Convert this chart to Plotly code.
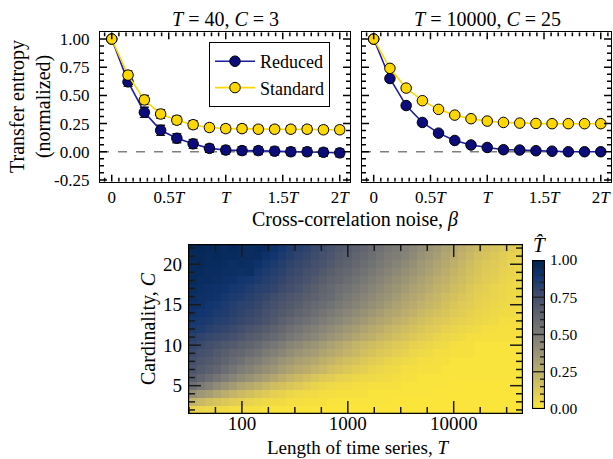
import numpy as np
import plotly.graph_objects as go

W, H = 613, 459
FONT = "Liberation Serif"

# ---- top row: transfer entropy vs. cross-correlation noise (beta in units of T)
BETA_OVER_T = [0, 0.143, 0.286, 0.429, 0.571, 0.714, 0.857, 1.0,
               1.143, 1.286, 1.429, 1.571, 1.714, 1.857, 2.0]

SHORT_REDUCED = [1.00, 0.62, 0.35, 0.19, 0.12, 0.07, 0.03, 0.015,
                 0.01, 0.01, 0.005, 0.0, 0.0, -0.005, -0.01]
SHORT_REDUCED_ERR = [0.01, 0.04, 0.045, 0.045, 0.04, 0.04, 0.035, 0.035,
                     0.035, 0.035, 0.035, 0.035, 0.035, 0.035, 0.035]
SHORT_STANDARD = [1.00, 0.68, 0.46, 0.335, 0.28, 0.24, 0.215, 0.205,
                  0.205, 0.20, 0.20, 0.20, 0.20, 0.195, 0.195]
SHORT_STANDARD_ERR = [0.01, 0.038, 0.04, 0.038, 0.035, 0.035, 0.03, 0.03,
                      0.03, 0.03, 0.03, 0.03, 0.03, 0.03, 0.03]

LONG_REDUCED = [1.00, 0.65, 0.41, 0.26, 0.165, 0.10, 0.06, 0.038,
                0.018, 0.015, 0.009, 0.005, 0.0, 0.0, 0.0]
LONG_REDUCED_ERR = [0.004] * 15
LONG_STANDARD = [1.00, 0.74, 0.565, 0.453, 0.376, 0.325, 0.293, 0.272,
                 0.26, 0.254, 0.251, 0.249, 0.249, 0.249, 0.249]
LONG_STANDARD_ERR = [0.004] * 15

PANEL_TITLES = ["<i>T</i> = 40, <i>C</i> = 3", "<i>T</i> = 10000, <i>C</i> = 25"]
BETA_TICKS = [0, 0.5, 1, 1.5, 2]
BETA_TICKTEXT = ["0", "0.5<i>T</i>", "<i>T</i>", "1.5<i>T</i>", "2<i>T</i>"]
TE_TICKS = [-0.25, 0, 0.25, 0.5, 0.75, 1.0]
TE_TICKTEXT = ["-0.25", "0.00", "0.25", "0.50", "0.75", "1.00"]

# ---- bottom: normalized transfer entropy over (T, C), in percent
T_LENGTHS = [34, 41, 48, 58, 69, 83, 99, 118, 141, 168, 201, 240, 286, 342,
             408, 488, 583, 696, 831, 993, 1186, 1416, 1691, 2019, 2411, 2881,
             3441, 4110, 4909, 5862, 7000, 8360, 9980, 11920, 14230, 17000,
             20300, 24250, 28960, 34590, 41300]
CARDINALITY = list(range(2, 23))
TE_PERCENT = [
    [8, 7, 6, 6, 5, 4, 4, 3, 3, 2, 2, 2, 2, 2, 2, 2] + [1] * 25,                      # C=2
    [22, 20, 17, 15, 13, 11, 10, 8, 7, 6, 5, 5, 4, 4, 3, 3, 3, 2, 2] + [2] * 6 + [1] * 16,
    [40, 36, 33, 29, 25, 22, 19, 17, 14, 12, 10, 9, 7, 6, 5, 5, 4, 4, 3, 3, 3,
     3, 2, 2, 2, 2, 2, 2, 2, 2] + [1] * 11,
    [56, 51, 47, 42, 38, 34, 30, 27, 24, 21, 18, 16, 14, 12, 10, 8, 7, 6, 5, 5,
     4, 4, 3, 3, 3, 3, 2, 2, 2, 2, 2, 2] + [1] * 9,
    [66, 62, 58, 54, 50, 46, 42, 39, 35, 32, 28, 25, 22, 19, 17, 14, 12, 11, 9,
     8, 7, 6, 6, 5, 5, 4, 3, 3] + [2] * 13,
    [71, 68, 65, 62, 58, 54, 50, 47, 43, 40, 37, 33, 30, 27, 25, 22, 20, 17, 15,
     13, 11, 10, 8, 7, 6, 5, 4, 4, 3, 3, 3, 2, 2, 2, 2, 2, 2, 2, 2, 2, 2],
    [74, 71, 69, 66, 63, 59, 56, 52, 49, 45, 42, 38, 35, 32, 30, 27, 24, 22, 19,
     17, 15, 13, 11, 10, 8, 7, 6, 5, 4, 4, 3, 3] + [2] * 9,
    [77, 74, 72, 69, 66, 63, 61, 58, 55, 51, 48, 45, 41, 38, 35, 33, 30, 27, 25,
     22, 20, 17, 15, 13, 12, 10, 9, 7, 6, 5, 4, 4, 3, 3, 3, 2, 2, 2, 2, 2, 2],
    [80, 78, 75, 73, 70, 68, 65, 63, 60, 56, 53, 50, 46, 43, 40, 37, 34, 31, 28,
     25, 22, 20, 18, 16, 14, 12, 11, 9, 8, 7, 6, 5, 4, 3, 3, 2, 2, 2, 2, 2, 2],
    [83, 81, 79, 78, 76, 74, 71, 68, 66, 63, 60, 57, 53, 50, 47, 44, 41, 38, 35,
     32, 29, 26, 24, 21, 19, 17, 15, 13, 11, 10, 8, 7, 6, 5, 4, 4, 3, 3, 3, 3, 3],
    [86, 85, 83, 81, 80, 78, 75, 72, 70, 67, 64, 61, 57, 54, 51, 48, 45, 42, 39,
     36, 33, 30, 27, 25, 22, 20, 18, 16, 14, 12, 11, 9, 8, 7, 6, 5, 4, 4, 3, 3, 3],
    [88, 87, 86, 84, 83, 81, 79, 77, 75, 72, 69, 65, 62, 59, 56, 53, 50, 47, 44,
     41, 38, 35, 32, 29, 27, 24, 22, 19, 17, 15, 13, 12, 10, 9, 8, 7, 6, 5, 4, 4, 4],
    [90, 89, 88, 86, 85, 83, 81, 79, 77, 74, 71, 69, 66, 63, 60, 57, 54, 51, 48,
     45, 42, 39, 36, 33, 30, 28, 25, 23, 20, 18, 16, 14, 12, 11, 9, 8, 7, 6, 5, 5, 4],
    [92, 91, 89, 88, 86, 84, 82, 81, 79, 76, 74, 71, 69, 66, 63, 60, 58, 55, 52,
     49, 46, 43, 40, 37, 34, 31, 28, 26, 23, 21, 19, 16, 14, 12, 11, 9, 8, 7, 6, 5, 5],
    [93, 92, 91, 90, 88, 86, 85, 83, 81, 79, 76, 74, 71, 69, 66, 64, 61, 59, 55,
     52, 49, 46, 43, 40, 37, 34, 31, 28, 26, 23, 21, 18, 16, 14, 12, 10, 9, 8, 7, 6, 5],
    [94, 93, 92, 91, 90, 88, 87, 85, 83, 82, 80, 77, 75, 72, 69, 66, 63, 60, 57,
     55, 52, 49, 46, 43, 40, 37, 34, 31, 29, 26, 23, 21, 18, 16, 13, 11, 10, 8, 7, 6, 6],
    [95, 94, 94, 93, 92, 91, 89, 88, 86, 84, 82, 80, 77, 75, 72, 69, 66, 63, 61,
     58, 55, 52, 49, 46, 43, 40, 37, 34, 31, 28, 25, 23, 20, 18, 15, 13, 11, 10, 8, 7, 6],
    [95, 95, 94, 94, 93, 93, 92, 93, 88, 86, 84, 82, 79, 77, 74, 72, 69, 66, 63,
     61, 58, 55, 52, 49, 46, 43, 40, 37, 34, 31, 28, 25, 22, 19, 17, 14, 12, 11, 9, 8, 7],
    [95, 96, 95, 95, 94, 93, 94, 93, 91, 88, 86, 84, 81, 79, 77, 74, 72, 69, 66,
     64, 61, 58, 55, 52, 49, 46, 43, 40, 36, 33, 30, 27, 24, 21, 18, 15, 13, 12, 10, 8, 7],
    [96, 96, 95, 96, 95, 95, 94, 94, 94, 91, 89, 86, 84, 81, 79, 76, 74, 71, 68,
     66, 63, 60, 57, 54, 51, 49, 46, 43, 39, 36, 33, 29, 26, 23, 20, 17, 15, 13, 11, 9, 8],
    [96, 97, 96, 96, 95, 96, 95, 94, 95, 94, 91, 88, 85, 83, 81, 78, 76, 73, 70,
     68, 65, 62, 59, 56, 53, 51, 48, 45, 41, 38, 35, 31, 28, 25, 22, 19, 17, 15, 13, 11, 9],
]
for row in TE_PERCENT:
    assert len(row) == len(T_LENGTHS), len(row)
assert len(TE_PERCENT) == len(CARDINALITY)

T_TICKS = [100, 1000, 10000]
T_TICKTEXT = ["100", "1000", "10000"]
C_TICKS = [5, 10, 15, 20]
SCALE_TICKS = [0.0, 0.25, 0.5, 0.75, 1.0]
SCALE_TICKTEXT = ["0.00", "0.25", "0.50", "0.75", "1.00"]

# ---- colours
NAVY_FILL = "#0b0b7a"
NAVY_LINE = "#1c1ca6"
GOLD = "#ffd700"
ERR_COLOR = "#222222"

# ---- frame geometry (pixels)
TOP_Y0, TOP_Y1 = 32.3, 181.7
LEFT_X0, LEFT_X1 = 100, 350
RIGHT_X0, RIGHT_X1 = 362, 611
HM_X0, HM_X1 = 188, 523
HM_Y0, HM_Y1 = 244, 414
CB_X0, CB_X1 = 532, 545
CB_Y0, CB_Y1 = 260, 409


def px_x(p):
    return p / W


def px_y(p):
    return 1 - p / H


fig = go.Figure()


def add_panel(idx, reduced, reduced_err, standard, standard_err, legend):
    xa = "x" if idx == 1 else f"x{idx}"
    ya = "y" if idx == 1 else f"y{idx}"
    for name, vals, errs, fill, line in (
        ("Reduced", reduced, reduced_err, NAVY_FILL, NAVY_LINE),
        ("Standard", standard, standard_err, GOLD, GOLD),
    ):
        fig.add_trace(go.Scatter(
            x=BETA_OVER_T, y=vals, name=name, mode="lines+markers",
            xaxis=xa, yaxis=ya, showlegend=legend,
            line=dict(color=line, width=1.6),
            marker=dict(size=10.5, color=fill, line=dict(color="black", width=1)),
            error_y=dict(type="data", array=errs, color=ERR_COLOR,
                         thickness=1.4, width=4.5),
        ))


add_panel(1, SHORT_REDUCED, SHORT_REDUCED_ERR, SHORT_STANDARD, SHORT_STANDARD_ERR, True)
add_panel(2, LONG_REDUCED, LONG_REDUCED_ERR, LONG_STANDARD, LONG_STANDARD_ERR, False)

# heatmap cell edges: geometric midpoints between neighbouring lengths
t = np.array(T_LENGTHS, dtype=float)
mid = np.sqrt(t[:-1] * t[1:])
t_edges = np.concatenate([[t[0] ** 2 / mid[0]], mid, [t[-1] ** 2 / mid[-1]]])
z = np.array(TE_PERCENT, dtype=float) / 100.0

fig.add_trace(go.Heatmap(
    x=t_edges, y=CARDINALITY, z=z, xaxis="x3", yaxis="y3",
    colorscale="Cividis", reversescale=True, zmin=0, zmax=1,
    showscale=False, hoverinfo="skip",
))

# colour scale strip drawn on its own small axes
levels = np.linspace(0, 1, 257)
fig.add_trace(go.Heatmap(
    x=[0, 1], y=levels, z=((levels[:-1] + levels[1:]) / 2)[:, None],
    xaxis="x4", yaxis="y4", colorscale="Cividis", reversescale=True,
    zmin=0, zmax=1, showscale=False, hoverinfo="skip",
))

beta_range = [-0.103, 2.09]
te_range = [-0.266, 1.06]
c_range = [1.5, 22.5]
x_log_lo, x_log_hi = np.log10(t_edges[0]), np.log10(t_edges[-1])


def add_lines(pairs, xa, ya, width=1.0, color="black"):
    xs, ys = [], []
    for (x0, y0), (x1, y1) in pairs:
        xs += [x0, x1, None]
        ys += [y0, y1, None]
    fig.add_trace(go.Scatter(x=xs, y=ys, xaxis=xa, yaxis=ya, mode="lines",
                             line=dict(color=color, width=width),
                             showlegend=False, hoverinfo="skip"))


TICK_W = 1.5

# inward ticks on all four sides of the two line panels
top_h = TOP_Y1 - TOP_Y0
beta_minor = [k / 16 for k in range(-1, 34) if k % 8 != 0]
te_minor = [k / 16 for k in range(-4, 17) if k % 4 != 0]
for xa, ya, wpx in (("x", "y", LEFT_X1 - LEFT_X0), ("x2", "y2", RIGHT_X1 - RIGHT_X0)):
    dy = (te_range[1] - te_range[0]) / top_h
    dx = (beta_range[1] - beta_range[0]) / wpx
    pairs = []
    for vals, ln in ((BETA_TICKS, 7), (beta_minor, 4)):
        for v in vals:
            pairs.append(((v, te_range[0]), (v, te_range[0] + ln * dy)))
            pairs.append(((v, te_range[1]), (v, te_range[1] - ln * dy)))
    for vals, ln in ((TE_TICKS, 7), (te_minor, 4)):
        for v in vals:
            pairs.append(((beta_range[0], v), (beta_range[0] + ln * dx, v)))
            pairs.append(((beta_range[1], v), (beta_range[1] - ln * dx, v)))
    add_lines(pairs, xa, ya, TICK_W)

# heatmap frame and inward ticks
hm_w, hm_h = HM_X1 - HM_X0, HM_Y1 - HM_Y0
dy = (c_range[1] - c_range[0]) / hm_h
dlog = (x_log_hi - x_log_lo) / hm_w
t_minor = [10 ** (k / 4) for k in range(6, 19) if k % 4 != 0]
c_minor = [c for c in range(2, 23) if c % 5 != 0]
lo, hi = t_edges[0], t_edges[-1]
pairs = []
for vals, ln in ((T_TICKS, 13), (t_minor, 7)):
    for v in vals:
        pairs.append(((v, c_range[0]), (v, c_range[0] + ln * dy)))
        pairs.append(((v, c_range[1]), (v, c_range[1] - ln * dy)))
for vals, ln in ((C_TICKS, 13), (c_minor, 7)):
    for v in vals:
        pairs.append(((lo, v), (lo * 10 ** (ln * dlog), v)))
        pairs.append(((hi, v), (hi / 10 ** (ln * dlog), v)))
add_lines(pairs, "x3", "y3", TICK_W, "#1a1a1a")
add_lines([((lo, c_range[0]), (hi, c_range[0])), ((hi, c_range[0]), (hi, c_range[1])),
           ((hi, c_range[1]), (lo, c_range[1])), ((lo, c_range[1]), (lo, c_range[0]))],
          "x3", "y3", 2.4)

# colour scale: dividers at labelled levels, short inner ticks in between, frame
cb_w = CB_X1 - CB_X0
pairs = []
for k in range(1, 20):
    v = k / 20
    x0 = 0.0 if k % 5 == 0 else 1 - 5 / cb_w
    pairs.append(((x0, v), (1.0, v)))
add_lines(pairs, "x4", "y4", 1.4, "#222222")
add_lines([((0, 0), (1, 0)), ((1, 0), (1, 1)), ((1, 1), (0, 1)), ((0, 1), (0, 0))],
          "x4", "y4", 2.2)

axis_common = dict(showline=True, linecolor="black", linewidth=1.2, mirror=True,
                   ticks="", showgrid=False, zeroline=False, automargin=False)
top_font = dict(family=FONT, size=17, color="black")
hm_font = dict(family=FONT, size=19, color="black")

beta_axis = dict(axis_common, range=beta_range, tickmode="array",
                 tickvals=BETA_TICKS, ticktext=BETA_TICKTEXT, tickfont=top_font,
                 ticklabelstandoff=0)
te_axis = dict(axis_common, range=te_range, tickmode="array",
               tickvals=TE_TICKS, ticktext=TE_TICKTEXT, tickfont=top_font,
               ticklabelstandoff=6)
top_dom = [px_y(TOP_Y1), px_y(TOP_Y0)]

fig.update_layout(
    width=W, height=H,
    margin=dict(l=0, r=0, t=0, b=0, autoexpand=False),
    paper_bgcolor="white", plot_bgcolor="white",
    font=dict(family=FONT, size=17, color="black"),
    xaxis=dict(beta_axis, domain=[px_x(LEFT_X0), px_x(LEFT_X1)], anchor="y"),
    yaxis=dict(te_axis, domain=top_dom, anchor="x"),
    xaxis2=dict(beta_axis, domain=[px_x(RIGHT_X0), px_x(RIGHT_X1)], anchor="y2"),
    yaxis2=dict(te_axis, domain=top_dom, anchor="x2", showticklabels=False),
    # the heatmap frame is drawn as a trace; its labels sit just under it
    xaxis3=dict(axis_common, showline=False, mirror=False, type="log",
                range=[x_log_lo, x_log_hi],
                domain=[px_x(HM_X0), px_x(HM_X1)], anchor="free",
                position=px_y(HM_Y1 - 4),
                tickmode="array", tickvals=T_TICKS, ticktext=T_TICKTEXT,
                tickfont=hm_font, ticklabelstandoff=0),
    yaxis3=dict(axis_common, showline=False, mirror=False, range=c_range,
                domain=[px_y(HM_Y1), px_y(HM_Y0)], anchor="x3",
                tickmode="array", tickvals=C_TICKS, tickfont=hm_font,
                ticklabelstandoff=5),
    xaxis4=dict(range=[0, 1], domain=[px_x(CB_X0), px_x(CB_X1)], anchor="y4",
                visible=False, fixedrange=True, automargin=False),
    yaxis4=dict(range=[0, 1], domain=[px_y(CB_Y1), px_y(CB_Y0)], anchor="x4",
                side="right", showline=False, ticks="", showgrid=False,
                zeroline=False, tickmode="array", tickvals=SCALE_TICKS,
                ticktext=SCALE_TICKTEXT, ticklabelstandoff=4,
                tickfont=dict(family=FONT, size=15.5, color="black"),
                fixedrange=True, automargin=False),
    legend=dict(
        x=px_x(209), y=px_y(42), xanchor="left", yanchor="top",
        bgcolor="white", bordercolor="black", borderwidth=1,
        font=dict(family=FONT, size=18, color="black"),
        tracegroupgap=0, itemwidth=40,
    ),
)

# dashed zero reference in both line panels
for xr, yr in (("x domain", "y"), ("x2 domain", "y2")):
    fig.add_shape(type="line", xref=xr, yref=yr, x0=0, x1=1, y0=0, y1=0,
                  line=dict(color="#808080", width=1.3, dash="dash"),
                  layer="below")

title_font = dict(family=FONT, size=20, color="black")
ann = [
    dict(text=PANEL_TITLES[0], x=px_x(225), y=px_y(19)),
    dict(text=PANEL_TITLES[1], x=px_x(487), y=px_y(19)),
    dict(text="Cross-correlation noise, <i>β</i>", x=px_x(355), y=px_y(219)),
    dict(text="Length of time series, <i>T</i>", x=px_x(358), y=px_y(447),
         font=dict(family=FONT, size=19, color="black")),
    dict(text="Transfer entropy<br>(normalized)", x=px_x(30), y=px_y(107),
         textangle=-90),
    dict(text="Cardinality, <i>C</i>", x=px_x(148), y=px_y(329), textangle=-90),
    dict(text="<i>T\u0302</i>", x=px_x(539), y=px_y(245),
         font=dict(family=FONT, size=21, color="black")),
]
for a in ann:
    a.setdefault("font", title_font)
    fig.add_annotation(xref="paper", yref="paper", showarrow=False,
                       xanchor="center", yanchor="middle", **a)

fig.write_html("out.html")
